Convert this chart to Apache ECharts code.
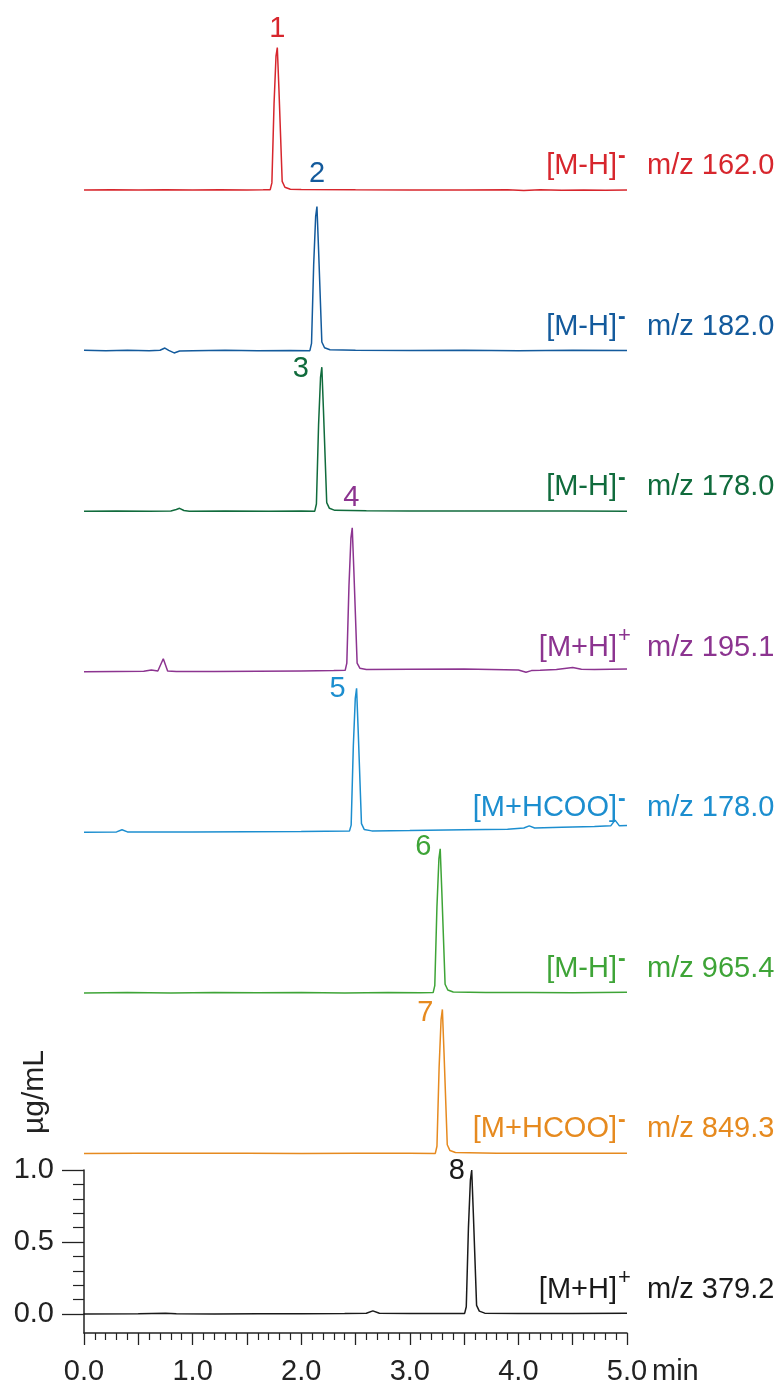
<!DOCTYPE html>
<html><head><meta charset="utf-8">
<script src="https://cdn.jsdelivr.net/npm/echarts/dist/echarts.min.js"></script>
<style>html,body{margin:0;padding:0;background:#fff}#c{width:784px;height:1386px}</style>
</head><body><div id="c"></div>
<script>
// ---- data ----
const peakNumbers = ['1','2','3','4','5','6','7','8'];
const ionMain = ['[M-H]','[M-H]','[M-H]','[M+H]','[M+HCOO]','[M-H]','[M+HCOO]','[M+H]'];
const ionCharge = ['-','-','-','+','-','-','-','+'];
const mzLabels = ['m/z 162.0','m/z 182.0','m/z 178.0','m/z 195.1','m/z 178.0','m/z 965.4','m/z 849.3','m/z 379.2'];
const xTickLabels = ['0.0','1.0','2.0','3.0','4.0','5.0'];
const yTickLabels = ['0.0','0.5','1.0'];
const xUnit = 'min';
const yUnit = 'µg/mL';

const trace1 = [[0,0],[0.25,0.002],[0.5,0],[0.75,0.003],[1.0,0.001],[1.25,0.002],[1.5,0.001],[1.65,0.002],[1.715,0.003],[1.73,0.05],[1.75,0.6],[1.768,0.93],[1.78,0.99],[1.795,0.7],[1.825,0.06],[1.85,0.02],[1.9,0.006],[2.0,0.004],[2.5,0.002],[3.0,0.001],[3.5,0.0],[3.9,0.002],[4.05,-0.003],[4.2,0.002],[4.4,-0.002],[4.6,0.001],[4.8,-0.002],[5.0,0.0]];
const trace2 = [[0,0.002],[0.2,0],[0.4,0.002],[0.6,0],[0.7,0.003],[0.745,0.018],[0.78,0.002],[0.83,-0.016],[0.88,-0.002],[1.0,0],[1.3,0.002],[1.6,-0.001],[1.9,0.001],[2.08,0],[2.095,0.05],[2.115,0.6],[2.133,0.93],[2.145,1.0],[2.16,0.7],[2.19,0.06],[2.215,0.02],[2.265,0.006],[2.5,0.003],[3.0,0.001],[3.5,0.002],[4.0,0],[4.5,0.002],[5.0,0.001]];
const trace3 = [[0,0],[0.3,0.002],[0.6,0],[0.8,0.002],[0.85,0.012],[0.88,0.02],[0.92,0.005],[0.97,0.0],[1.3,0.002],[1.7,0],[2.0,0.002],[2.125,0],[2.14,0.05],[2.16,0.6],[2.178,0.93],[2.19,1.0],[2.205,0.7],[2.235,0.06],[2.26,0.02],[2.31,0.006],[2.6,0.003],[3.0,0.002],[3.5,0.001],[4.0,0.002],[4.5,0.001],[5.0,0.0]];
const trace4 = [[0,0],[0.3,0.002],[0.55,0.003],[0.62,0.012],[0.68,0.005],[0.73,0.09],[0.77,0.005],[0.85,0.002],[1.2,0.002],[1.6,0.004],[2.0,0.006],[2.3,0.008],[2.405,0.01],[2.42,0.06],[2.44,0.6],[2.458,0.93],[2.47,1.0],[2.485,0.7],[2.515,0.06],[2.54,0.025],[2.6,0.016],[3.0,0.018],[3.5,0.02],[4.0,0.012],[4.07,-0.003],[4.12,0.008],[4.2,0.01],[4.35,0.015],[4.5,0.03],[4.58,0.018],[4.7,0.015],[5.0,0.02]];
const trace5 = [[0,0],[0.3,0.003],[0.35,0.018],[0.4,0.003],[0.6,0.002],[1.0,0.003],[1.5,0.004],[2.0,0.006],[2.445,0.01],[2.46,0.05],[2.48,0.6],[2.498,0.93],[2.51,1.0],[2.525,0.7],[2.555,0.06],[2.58,0.02],[2.65,0.01],[3.0,0.012],[3.5,0.018],[3.9,0.022],[4.05,0.03],[4.1,0.045],[4.15,0.03],[4.4,0.035],[4.7,0.04],[4.85,0.045],[4.89,0.085],[4.93,0.045],[5.0,0.048]];
const trace6 = [[0,0],[0.4,0.002],[0.8,0],[1.2,0.003],[1.6,0.001],[2.0,0.002],[2.4,0],[2.8,0.002],[3.1,0.001],[3.215,0.002],[3.23,0.05],[3.25,0.6],[3.268,0.93],[3.28,1.0],[3.295,0.7],[3.325,0.06],[3.35,0.02],[3.4,0.006],[3.7,0.002],[4.1,0.003],[4.5,0.001],[5.0,0.004]];
const trace7 = [[0,0],[0.5,0.002],[1.0,0.001],[1.5,0.002],[2.0,0],[2.5,0.002],[3.0,0.001],[3.235,0],[3.25,0.05],[3.27,0.6],[3.288,0.93],[3.30,1.0],[3.315,0.7],[3.345,0.06],[3.37,0.02],[3.42,0.006],[3.8,0.002],[4.3,0.001],[5.0,0.002]];
const trace8 = [[0,0],[0.5,0.001],[0.75,0.006],[0.85,0.002],[1.2,0],[1.6,0.002],[2.0,0.002],[2.4,0.003],[2.6,0.005],[2.66,0.022],[2.72,0.005],[3.0,0.003],[3.3,0.003],[3.505,0.004],[3.52,0.05],[3.54,0.6],[3.558,0.93],[3.57,1.0],[3.585,0.7],[3.615,0.06],[3.64,0.02],[3.69,0.006],[4.0,0.004],[4.5,0.003],[5.0,0.005]];

const traces = [trace1,trace2,trace3,trace4,trace5,trace6,trace7,trace8];

// ---- styling / layout ----
const colors = ['#d7262d','#135a9c','#106b3c','#8c3490','#1c8ecf','#3ea437','#e68a1f','#1a1a1a'];
const FONT = '"Liberation Sans", Arial, Helvetica, sans-serif';
const FS = 29;
const step = 1.115;            // vertical stacking step (in units of the bottom axis)
const offsets = [7,6,5,4,3,2,1].map(k => k * step);
const labelOffsets = [[0,-19],[0,-33],[-21,2],[-1,-30],[-19,1],[-17,-2],[-17,4],[-15,1]];

const chart = echarts.init(document.getElementById('c'), null, {renderer:'canvas'});
const series = traces.map((tr, i) => {
  const isBottom = i === 7;
  return {
    type: 'line',
    xAxisIndex: isBottom ? 1 : 0,
    yAxisIndex: isBottom ? 1 : 0,
    data: isBottom ? tr : tr.map(p => [p[0], p[1] + offsets[i]]),
    showSymbol: false,
    symbol: 'none',
    clip: false,
    lineStyle: {color: colors[i], width: 1.5},
    itemStyle: {color: colors[i]},
    animation: false
  };
});

const axisCol = '#222';
chart.setOption({
  animation: false,
  textStyle: {fontFamily: FONT},
  grid: [
    {left:84, right:157, top:0, bottom:72},
    {left:84, right:157, top:1170, bottom:72},
    {left:84, right:157, top:1314, bottom:53}
  ],
  xAxis: [
    {gridIndex:0, type:'value', min:0, max:5, show:false},
    {gridIndex:1, type:'value', min:0, max:5, show:false},
    {gridIndex:2, type:'value', min:0, max:5, interval:0.5,
     axisLine:{show:true, lineStyle:{color:axisCol, width:1.5}},
     axisTick:{show:true, length:12, inside:false, lineStyle:{color:axisCol, width:1.3}},
     minorTick:{show:true, splitNumber:5, length:7, lineStyle:{color:axisCol, width:1.2}},
     splitLine:{show:false}, minorSplitLine:{show:false},
     axisLabel:{show:true, margin:24, fontSize:FS, color:'#222', fontFamily:FONT,
       formatter: v => { const s = (Math.round(v*10)/10).toFixed(1); return xTickLabels.indexOf(s) >= 0 ? s : ''; }}}
  ],
  yAxis: [
    {gridIndex:0, type:'value', min:0, max:9.125, show:false},
    {gridIndex:1, type:'value', min:0, max:1, interval:0.5,
     axisLine:{show:true, lineStyle:{color:axisCol, width:1.5}},
     axisTick:{show:true, length:22, inside:false, lineStyle:{color:axisCol, width:1.3}},
     minorTick:{show:true, splitNumber:5, length:11, lineStyle:{color:axisCol, width:1.2}},
     splitLine:{show:false}, minorSplitLine:{show:false},
     axisLabel:{show:true, margin:30, fontSize:FS, color:'#222', fontFamily:FONT,
       formatter: v => yTickLabels[Math.round(v*2)]}},
    {gridIndex:2, type:'value', min:0, max:1,
     axisLine:{show:true, lineStyle:{color:axisCol, width:1.5}},
     axisTick:{show:false}, axisLabel:{show:false}, splitLine:{show:false}}
  ],
  series: series
});

// ---- text annotations positioned through the axes ----
const g = [];
traces.forEach((tr, i) => {
  const isBottom = i === 7;
  const gi = isBottom ? 1 : 0;
  const base = isBottom ? 0 : offsets[i];
  const endPt = chart.convertToPixel({gridIndex: gi}, [5, base]);
  const apex = tr.reduce((a, b) => (b[1] > a[1] ? b : a));
  const apexPt = chart.convertToPixel({gridIndex: gi}, [apex[0], apex[1] + base]);
  const cy = endPt[1] - 24;
  g.push({type:'text', x: endPt[0] - 10, y: cy, style:{text: ionMain[i], fill: colors[i], font: FS + 'px ' + FONT, textAlign:'right', textVerticalAlign:'middle'}});
  g.push({type:'text', x: endPt[0] - 9, y: cy + (ionCharge[i] === '+' ? -12 : -9), style:{text: ionCharge[i], fill: colors[i], font: (ionCharge[i] === '+' ? '22px ' : 'bold 23px ') + FONT, textAlign:'left', textVerticalAlign:'middle'}});
  g.push({type:'text', x: endPt[0] + 20, y: cy, style:{text: mzLabels[i], fill: colors[i], font: FS + 'px ' + FONT, textAlign:'left', textVerticalAlign:'middle'}});
  g.push({type:'text', x: apexPt[0] + labelOffsets[i][0], y: apexPt[1] + labelOffsets[i][1], style:{text: peakNumbers[i], fill: colors[i], font: FS + 'px ' + FONT, textAlign:'center', textVerticalAlign:'middle'}});
});
const x5 = chart.convertToPixel({gridIndex: 2}, [5, 0]);
g.push({type:'text', x: x5[0] + 25, y: x5[1] + 39, style:{text: xUnit, fill:'#222', font: FS + 'px ' + FONT, textAlign:'left', textVerticalAlign:'middle'}});
const y1 = chart.convertToPixel({gridIndex: 1}, [0, 1]);
g.push({type:'text', x: 35, y: y1[1] - 78, rotation: Math.PI/2, style:{text: yUnit, fill:'#222', font:'30px ' + FONT, textAlign:'center', textVerticalAlign:'middle'}});
chart.setOption({graphic: g});
</script>
</body></html>
